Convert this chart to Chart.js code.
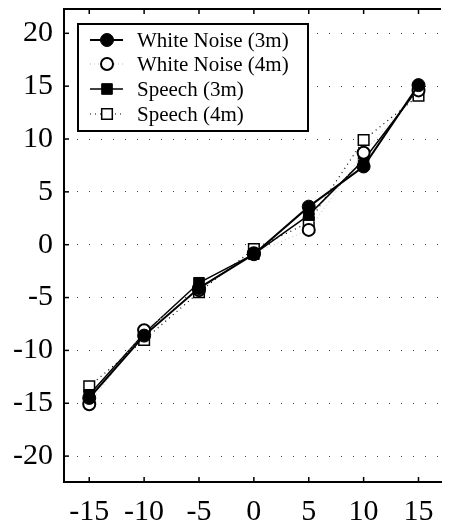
<!DOCTYPE html>
<html>
<head>
<meta charset="utf-8">
<script src="https://cdn.jsdelivr.net/npm/chart.js@4"></script>
<style>
  html, body { margin: 0; padding: 0; background: #fff; }
  #wrap { width: 450px; height: 526px; }
</style>
</head>
<body>
<div id="wrap"><canvas id="chart" width="450" height="526"></canvas></div>
<script>
        const xValues = [-15, -10, -5, 0, 5, 10, 15];
        const whiteNoise3m = [-14.5, -8.6, -4.1, -0.9, 3.6, 7.4, 15.1];
        const whiteNoise4m = [-15.1, -8.1, -4.3, -0.8, 1.4, 8.7, 14.6];
        const speech3m = [-14.2, -8.4, -3.6, -0.9, 2.8, 8.0, 14.8];
        const speech4m = [-13.4, -9.0, -4.5, -0.4, 2.1, 9.9, 14.1];
        const seriesNames = ['White Noise (3m)', 'White Noise (4m)', 'Speech (3m)', 'Speech (4m)'];

        const serif = "'Liberation Serif', 'Times New Roman', serif";
        Chart.defaults.font.family = serif;

        function toPoints(ys) {
            return xValues.map(function (x, i) { return { x: x, y: ys[i] }; });
        }

        // legend drawn inside the plot, plus the inward tick marks and top frame
        const framePlugin = {
            id: 'frame',
            afterDraw: function (chart) {
                const ctx = chart.ctx;
                const area = chart.chartArea;
                const xs = chart.scales.x;
                const ys = chart.scales.y;
                ctx.save();
                ctx.strokeStyle = '#000';
                ctx.lineWidth = 2;
                ctx.beginPath();
                ctx.moveTo(area.left - 1, area.top);
                ctx.lineTo(area.right, area.top);
                ctx.stroke();
                ctx.lineWidth = 1.5;
                xs.ticks.forEach(function (t) {
                    const px = xs.getPixelForValue(t.value);
                    ctx.beginPath();
                    ctx.moveTo(px, area.bottom);
                    ctx.lineTo(px, area.bottom - 5);
                    ctx.moveTo(px, area.top);
                    ctx.lineTo(px, area.top + 5);
                    ctx.stroke();
                });
                ys.ticks.forEach(function (t) {
                    const py = ys.getPixelForValue(t.value);
                    ctx.beginPath();
                    ctx.moveTo(area.left, py);
                    ctx.lineTo(area.left + 5, py);
                    ctx.stroke();
                });

                // legend box
                const box = { left: 78, top: 24, right: 308, bottom: 131 };
                ctx.fillStyle = '#fff';
                ctx.fillRect(box.left, box.top, box.right - box.left, box.bottom - box.top);
                ctx.lineWidth = 2;
                ctx.strokeRect(box.left, box.top, box.right - box.left, box.bottom - box.top);
                const rows = [40, 64, 89, 114];
                chart.data.datasets.forEach(function (ds, i) {
                    const y = rows[i];
                    ctx.save();
                    ctx.strokeStyle = ds.borderColor;
                    ctx.lineWidth = ds.borderWidth;
                    ctx.setLineDash(ds.borderDash || []);
                    ctx.beginPath();
                    ctx.moveTo(90, y);
                    ctx.lineTo(123, y);
                    ctx.stroke();
                    ctx.restore();
                    ctx.save();
                    ctx.fillStyle = ds.pointBackgroundColor;
                    ctx.strokeStyle = ds.pointBorderColor;
                    ctx.lineWidth = ds.pointBorderWidth;
                    Chart.helpers.drawPoint(ctx, {
                        pointStyle: ds.pointStyle,
                        radius: ds.pointRadius,
                        borderWidth: ds.pointBorderWidth
                    }, 107, y);
                    ctx.restore();
                    ctx.fillStyle = '#000';
                    ctx.font = '21px ' + serif;
                    ctx.textAlign = 'left';
                    ctx.textBaseline = 'middle';
                    ctx.fillText(ds.label, 137, y + 1);
                });
                ctx.restore();
            }
        };

        const ctxChart = document.getElementById('chart');
        new Chart(ctxChart, {
            type: 'line',
            data: {
                datasets: [{
                    label: seriesNames[0],
                    data: toPoints(whiteNoise3m),
                    borderColor: '#000',
                    borderWidth: 2,
                    pointStyle: 'circle',
                    pointRadius: 6.5,
                    pointBackgroundColor: '#000',
                    pointBorderColor: '#000',
                    pointBorderWidth: 1
                }, {
                    label: seriesNames[1],
                    data: toPoints(whiteNoise4m),
                    borderColor: '#bbb',
                    borderWidth: 1,
                    borderDash: [1, 3],
                    pointStyle: 'circle',
                    pointRadius: 6,
                    pointBackgroundColor: '#fff',
                    pointBorderColor: '#000',
                    pointBorderWidth: 2
                }, {
                    label: seriesNames[2],
                    data: toPoints(speech3m),
                    borderColor: '#000',
                    borderWidth: 1.5,
                    pointStyle: 'rect',
                    pointRadius: 7.5,
                    pointBackgroundColor: '#000',
                    pointBorderColor: '#000',
                    pointBorderWidth: 1
                }, {
                    label: seriesNames[3],
                    data: toPoints(speech4m),
                    borderColor: '#000',
                    borderWidth: 1.2,
                    borderDash: [1, 4],
                    pointStyle: 'rect',
                    pointRadius: 7.5,
                    pointBackgroundColor: '#fff',
                    pointBorderColor: '#000',
                    pointBorderWidth: 1.5
                }]
            },
            options: {
                responsive: false,
                animation: false,
                layout: { padding: { top: 9, right: 0, left: 0, bottom: 0 } },
                plugins: { legend: { display: false }, tooltip: { enabled: false } },
                elements: { line: { tension: 0 } },
                scales: {
                    x: {
                        type: 'linear',
                        min: -17.3,
                        max: 17.05,
                        afterFit: function (s) {
                            s.height = 44;
                            s.paddingLeft = 0;
                            s.paddingRight = 0;
                        },
                        afterBuildTicks: function (s) {
                            s.ticks = xValues.map(function (v) { return { value: v }; });
                        },
                        ticks: {
                            color: '#000',
                            padding: 12,
                            maxRotation: 0,
                            font: { family: serif, size: 30 }
                        },
                        grid: { display: false, drawTicks: false },
                        border: { display: true, color: '#000', width: 2 }
                    },
                    y: {
                        min: -22.45,
                        max: 22.3,
                        afterFit: function (s) {
                            s.width = 64;
                            s.paddingTop = 0;
                            s.paddingBottom = 0;
                        },
                        ticks: {
                            stepSize: 5,
                            includeBounds: false,
                            color: '#000',
                            padding: 11,
                            font: { family: serif, size: 30 }
                        },
                        grid: {
                            drawTicks: false,
                            color: '#444',
                            lineWidth: 1
                        },
                        border: { display: true, color: '#000', width: 2, dash: [1, 11] }
                    }
                }
            },
            plugins: [framePlugin]
        });
</script>
</body>
</html>
